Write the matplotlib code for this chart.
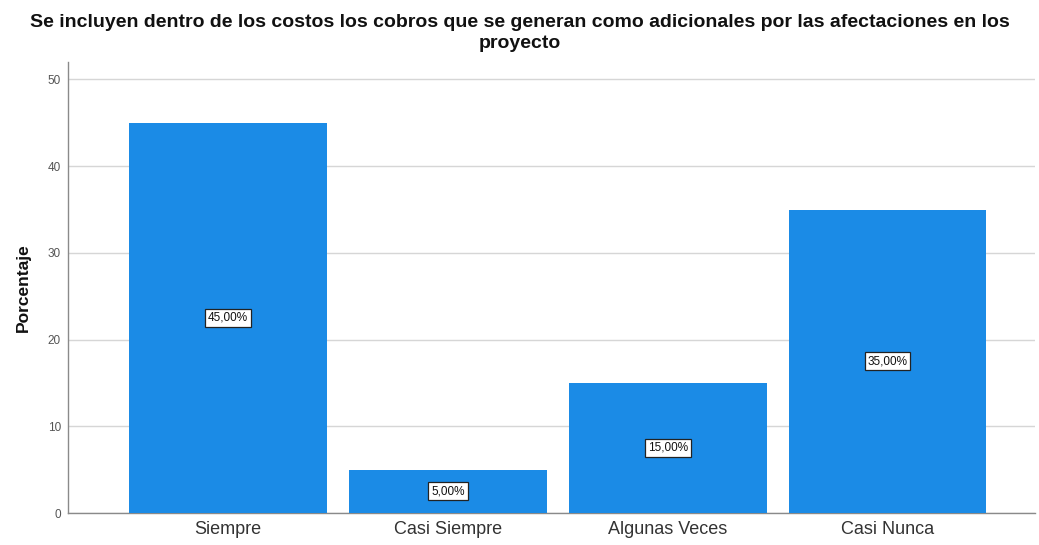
import matplotlib.pyplot as plt

categories = ["Siempre", "Casi Siempre", "Algunas Veces", "Casi Nunca"]
percentages = [45.0, 5.0, 15.0, 35.0]
yticks = [0, 10, 20, 30, 40, 50]

plt.rcParams['font.family'] = ['Liberation Sans', 'DejaVu Sans']

fig = plt.figure(figsize=(10.39, 5.45), dpi=100)
ax = fig.add_axes([0.0654, 0.0587, 0.9306, 0.8273])

x = list(range(len(categories)))
bars = ax.bar(x, percentages, width=0.9, color="#1b8be6", zorder=3)

for xi, v in zip(x, percentages):
    ax.text(xi, v / 2, f"{v:.2f}%".replace(".", ","), ha="center", va="center",
            fontsize=8.5, color="#111111", zorder=4,
            bbox=dict(boxstyle="square,pad=0.25", facecolor="white",
                      edgecolor="#222222", linewidth=0.9))

ax.set_xlim(-0.728, 3.67)
ax.set_ylim(0, 52)
ax.set_xticks(x)
ax.set_xticklabels(categories, fontsize=13, color="#333333")
ax.set_yticks(yticks)
ax.set_yticklabels([str(t) for t in yticks], fontsize=8.5, color="#555555")
ax.tick_params(axis="x", length=0, pad=6)
ax.tick_params(axis="y", length=0, pad=5)

ax.yaxis.grid(True, color="#d6d6d6", linewidth=1.0, zorder=0)
ax.set_axisbelow(True)
for side in ("top", "right"):
    ax.spines[side].set_visible(False)
for side in ("left", "bottom"):
    ax.spines[side].set_color("#8a8a8a")
    ax.spines[side].set_linewidth(1.0)

ax.set_ylabel("Porcentaje", fontsize=12.5, fontweight="bold", color="#111111", labelpad=12)

fig.suptitle("Se incluyen dentro de los costos los cobros que se generan como adicionales por las afectaciones en los\nproyecto",
             x=0.5, y=0.975, fontsize=14, fontweight="bold", color="#111111",
             linespacing=1.3, va="top")

fig.savefig("out.png", dpi=100)
